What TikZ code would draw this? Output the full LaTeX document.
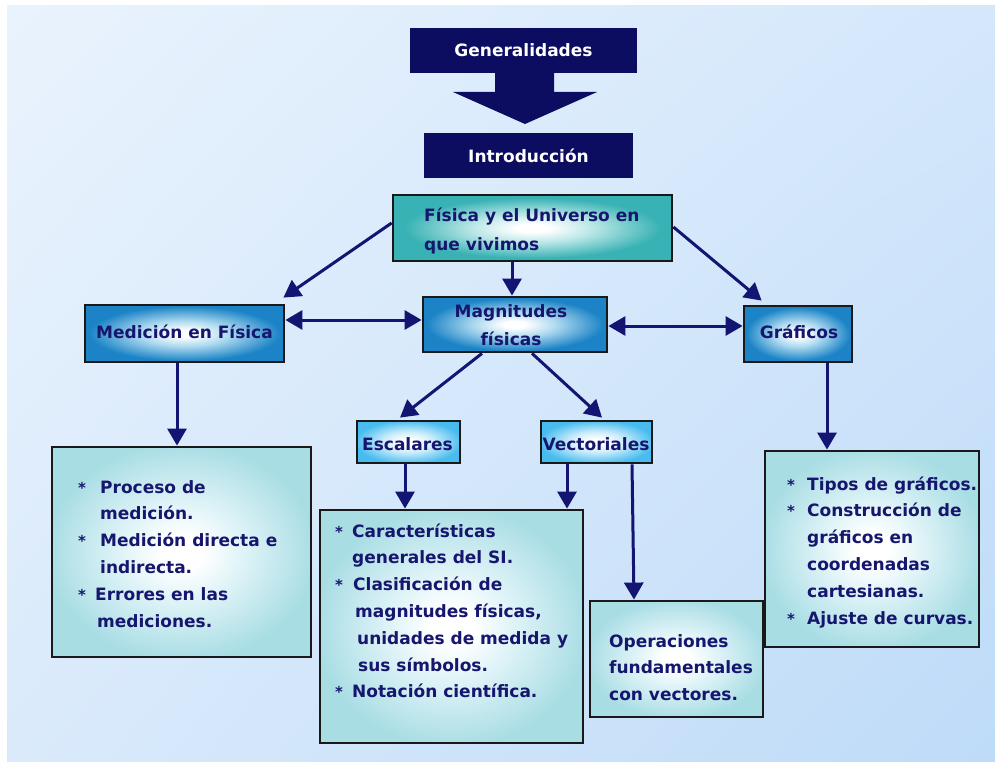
\documentclass[tikz,border=0pt]{standalone}
\usepackage{fontspec}
\setmainfont{DejaVu Sans}
\usetikzlibrary{arrows.meta,shadings}
\definecolor{navy}{RGB}{12,12,96}
\definecolor{arrcol}{RGB}{20,20,115}
\definecolor{txtcol}{RGB}{22,22,110}
\definecolor{boxblue}{RGB}{28,132,198}
\definecolor{boxblueB}{RGB}{175,218,240}
\definecolor{boxteal}{RGB}{56,178,180}
\definecolor{boxtealB}{RGB}{185,230,230}
\definecolor{boxcyan}{RGB}{72,188,238}
\definecolor{boxcyanB}{RGB}{205,237,252}
\definecolor{boxpale}{RGB}{168,221,228}
\definecolor{boxpaleB}{RGB}{222,243,247}
\definecolor{bgtl}{RGB}{233,243,253}
\definecolor{bgtr}{RGB}{212,231,251}
\definecolor{bgbl}{RGB}{218,234,251}
\definecolor{bgbr}{RGB}{190,219,248}
\pgfdeclareradialshading{glowblue}{\pgfpoint{0bp}{0bp}}{color(0bp)=(white); color(3bp)=(white); color(11bp)=(boxblueB); color(24bp)=(boxblue); color(50bp)=(boxblue)}
\pgfdeclareradialshading{glowteal}{\pgfpoint{0bp}{0bp}}{color(0bp)=(white); color(3bp)=(white); color(11bp)=(boxtealB); color(23bp)=(boxteal); color(50bp)=(boxteal)}
\pgfdeclareradialshading{glowcyan}{\pgfpoint{0bp}{0bp}}{color(0bp)=(white); color(4bp)=(white); color(12bp)=(boxcyanB); color(26bp)=(boxcyan); color(50bp)=(boxcyan)}
\pgfdeclareradialshading{glowpale}{\pgfpoint{0bp}{0bp}}{color(0bp)=(white); color(4bp)=(white); color(12bp)=(boxpaleB); color(26bp)=(boxpale); color(50bp)=(boxpale)}
\tikzset{
  box/.style={draw=black!90, line width=2.8pt, inner sep=0pt, shade},
  bluebox/.style={box, shading=glowblue},
  tealbox/.style={box, shading=glowteal},
  cyanbox/.style={box, shading=glowcyan},
  palebox/.style={box, shading=glowpale},
  navybox/.style={fill=navy, draw=none, inner sep=0pt},
  txt/.style={text=txtcol, font=\fontsize{17}{26.8}\selectfont\bfseries, inner sep=0pt},
  wtxt/.style={txt, text=white},
  arr/.style={draw=arrcol, line width=3pt, -{Triangle[length=17pt,width=19pt]}},
  darr/.style={draw=arrcol, line width=3pt, {Triangle[length=17pt,width=19pt]}-{Triangle[length=17pt,width=19pt]}},
}
\newcommand\stbox[1]{\makebox[#1][l]{\fontsize{15}{15}\selectfont *}}
\begin{document}
\begin{tikzpicture}[x=1pt,y=-1pt]
\useasboundingbox (0,0) rectangle (995,762);
\fill[white] (0,0) rectangle (995,762);
\shade[upper left=bgtl, upper right=bgtr, lower left=bgbl, lower right=bgbr] (7,6) rectangle (995,762);

% top
\node[navybox, minimum width=227pt, minimum height=45pt] (gen) at (523.5,50.5) {};
\fill[navy] (495,70) -- (554,70) -- (554,92) -- (597,92) -- (525,124) -- (453,92) -- (495,92) -- cycle;
\node[navybox, minimum width=209pt, minimum height=45pt] (intro) at (528.5,155.5) {};
\node[wtxt, anchor=base] (gent) at (523.5,57) {Generalidades};
\node[wtxt, anchor=base] (introt) at (528.5,162.5) {Introducción};

% boxes
\node[tealbox, minimum width=279pt, minimum height=66pt] (fis) at (532.5,228) {};
\node[bluebox, minimum width=199pt, minimum height=57pt] (med) at (184.5,333.5) {};
\node[bluebox, minimum width=184pt, minimum height=55pt] (mag) at (515,324.5) {};
\node[bluebox, minimum width=108pt, minimum height=56pt] (gra) at (798,334) {};
\node[cyanbox, minimum width=103pt, minimum height=42pt] (esc) at (408.5,442) {};
\node[cyanbox, minimum width=111pt, minimum height=42pt] (vec) at (596.5,442) {};
\node[palebox, minimum width=259pt, minimum height=210pt] (lbox) at (181.5,552) {};
\node[palebox, minimum width=263pt, minimum height=233pt] (mbox) at (451.5,626.5) {};
\node[palebox, minimum width=173pt, minimum height=116pt] (obox) at (676.5,659) {};
\node[palebox, minimum width=214pt, minimum height=196pt] (rbox) at (872,549) {};

% texts
\node[txt, anchor=base west] (fist) at (424,221) {\parbox[t]{250pt}{\raggedright\fontsize{17}{29}\selectfont F\'isica y el Universo en\\que vivimos}};
\node[txt, anchor=base] (medt) at (184.5,338) {Medición en Física};
\node[txt, anchor=base] (magt) at (511,317) {\parbox[t]{180pt}{\centering\fontsize{17}{28}\selectfont Magnitudes\\físicas}};
\node[txt, anchor=base] (grat) at (799,338) {Gráficos};
\node[txt, anchor=base] (esct) at (407.5,450) {Escalares};
\node[txt, anchor=base] (vect) at (596,450) {Vectoriales};

\node[txt, anchor=base west] (lt) at (78,493) {\parbox[t]{230pt}{\raggedright
\stbox{22pt}Proceso de\\
\hspace*{22pt}medición.\\
\stbox{22pt}Medición directa e\\
\hspace*{22pt}indirecta.\\
\stbox{17pt}Errores en las\\
\hspace*{19pt}mediciones.}};

\node[txt, anchor=base west] (mt) at (335,537) {\parbox[t]{245pt}{\raggedright
\stbox{17pt}Características\\
\hspace*{17pt}generales del SI.\\
\stbox{18pt}Clasificación de\\
\hspace*{20pt}magnitudes físicas,\\
\hspace*{22pt}unidades de medida y\\
\hspace*{23pt}sus símbolos.\\
\stbox{17pt}Notación científica.}};

\node[txt, anchor=base west] (rt) at (787,490) {\parbox[t]{195pt}{\raggedright
\stbox{20pt}Tipos de gráficos.\\
\stbox{20pt}Construcción de\\
\hspace*{20pt}gráficos en\\
\hspace*{20pt}coordenadas\\
\hspace*{20pt}cartesianas.\\
\stbox{20pt}Ajuste de curvas.}};

\node[txt, anchor=base west] (ot) at (609,647) {\parbox[t]{150pt}{\raggedright
Operaciones\\
fundamentales\\
con vectores.}};

% connectors
\draw[arr] ([yshift=5pt]fis.west) -- ([xshift=-2pt,yshift=6pt]med.north east);
\draw[arr] ([xshift=-20.5pt]fis.south) -- ([xshift=-3pt]mag.north);
\draw[arr] ([yshift=1pt]fis.east) -- ([xshift=19pt,yshift=4pt]gra.north west);
\draw[darr] ([yshift=13.5pt]med.east) -- ([yshift=4.5pt]mag.west);
\draw[darr] ([yshift=-1.5pt]mag.east) -- ([yshift=8pt]gra.west);
\draw[arr] ([xshift=-33pt]mag.south) -- ([xshift=-8.5pt,yshift=2pt]esc.north);
\draw[arr] ([xshift=17pt]mag.south) -- ([xshift=5.5pt,yshift=2pt]vec.north);
\draw[arr] ([xshift=-7.5pt]med.south) -- ([xshift=-4.5pt]lbox.north);
\draw[arr] ([xshift=29pt]gra.south) -- ([xshift=-45pt]rbox.north);
\draw[arr] ([xshift=-3.5pt]esc.south) -- ([xshift=-46.5pt]mbox.north);
\draw[arr] ([xshift=-29.5pt]vec.south) -- ([xshift=115.5pt]mbox.north);
\draw[arr] ([xshift=35.5pt]vec.south) -- ([xshift=-42.5pt]obox.north);
\end{tikzpicture}
\end{document}
